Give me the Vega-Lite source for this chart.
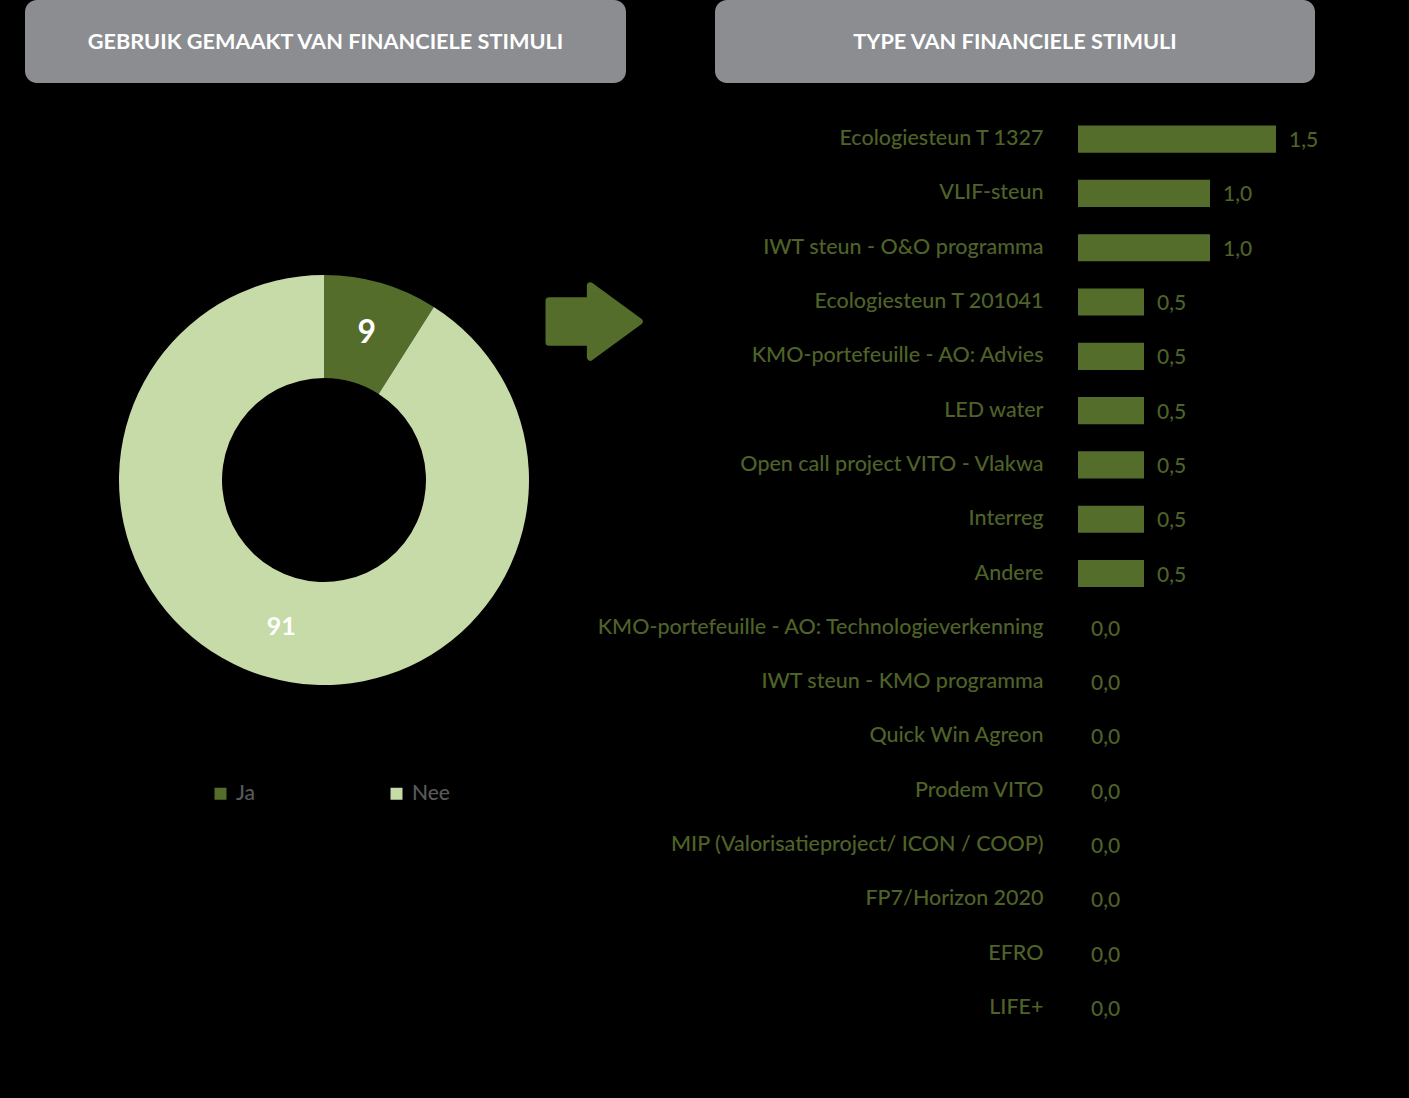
{
  "$schema": "https://vega.github.io/schema/vega-lite/v6.json",
  "background": "#000000",
  "padding": {"left": 25, "top": 0, "right": 1, "bottom": 63},
  "spacing": 29,
  "config": {
    "view": {"stroke": null},
    "font": "Lato",
    "locale": {"number": {"decimal": ",", "thousands": ".", "grouping": [3], "currency": ["€", ""]}}
  },
  "datasets": {
    "share": [
      {"antwoord": "Ja", "pct": 9},
      {"antwoord": "Nee", "pct": 91}
    ],
    "stimuli": [
      {"type": "Ecologiesteun T 1327", "waarde": 1.5},
      {"type": "VLIF-steun", "waarde": 1.0},
      {"type": "IWT steun - O&O programma", "waarde": 1.0},
      {"type": "Ecologiesteun T 201041", "waarde": 0.5},
      {"type": "KMO-portefeuille - AO: Advies", "waarde": 0.5},
      {"type": "LED water", "waarde": 0.5},
      {"type": "Open call project VITO - Vlakwa", "waarde": 0.5},
      {"type": "Interreg", "waarde": 0.5},
      {"type": "Andere", "waarde": 0.5},
      {"type": "KMO-portefeuille - AO: Technologieverkenning", "waarde": 0.0},
      {"type": "IWT steun - KMO programma", "waarde": 0.0},
      {"type": "Quick Win Agreon", "waarde": 0.0},
      {"type": "Prodem VITO", "waarde": 0.0},
      {"type": "MIP (Valorisatieproject/ ICON / COOP)", "waarde": 0.0},
      {"type": "FP7/Horizon 2020", "waarde": 0.0},
      {"type": "EFRO", "waarde": 0.0},
      {"type": "LIFE+", "waarde": 0.0}
    ]
  },
  "vconcat": [
    {
      "hconcat": [
        {
          "width": 601,
          "height": 83,
          "view": {"fill": "#8B8D91", "cornerRadius": 12, "stroke": null},
          "data": {"values": [{"titel": "GEBRUIK GEMAAKT VAN FINANCIELE STIMULI"}]},
          "mark": {"type": "text", "color": "#FFFFFF", "fontSize": 21.7, "fontWeight": "bold", "align": "center", "baseline": "middle"},
          "encoding": {"text": {"field": "titel"}}
        },
        {
          "width": 600,
          "height": 83,
          "view": {"fill": "#8B8D91", "cornerRadius": 12, "stroke": null},
          "data": {"values": [{"titel": "TYPE VAN FINANCIELE STIMULI"}]},
          "mark": {"type": "text", "color": "#FFFFFF", "fontSize": 21.7, "fontWeight": "bold", "align": "center", "baseline": "middle"},
          "encoding": {"text": {"field": "titel"}}
        }
      ],
      "spacing": 89,
      "bounds": "flush"
    },
    {
      "hconcat": [
        {
          "width": 598,
          "height": 736,
          "data": {"name": "share"},
          "layer": [
            {
              "mark": {"type": "arc", "innerRadius": 102, "outerRadius": 205},
              "encoding": {
                "theta": {"field": "pct", "type": "quantitative", "stack": true},
                "color": {
                  "field": "antwoord",
                  "type": "nominal",
                  "scale": {"domain": ["Ja", "Nee"], "range": ["#546D2B", "#C7DBA8"]},
                  "legend": {
                    "title": null,
                    "orient": "none",
                    "legendX": 185,
                    "legendY": 783,
                    "direction": "horizontal",
                    "symbolType": "square",
                    "symbolSize": 144,
                    "symbolStrokeWidth": 0,
                    "labelFontSize": 21,
                    "labelFontWeight": 500,
                    "labelColor": "#595959",
                    "labelFont": "Lato",
                    "labelOffset": 5,
                    "columnPadding": 131
                  }
                }
              }
            },
            {
              "mark": {"type": "text", "radius": 153, "color": "#FFFFFF", "fontWeight": "bold", "align": "center", "baseline": "middle"},
              "encoding": {
                "theta": {"field": "pct", "type": "quantitative", "stack": true},
                "text": {"field": "pct", "type": "quantitative"},
                "size": {"condition": {"test": "datum.antwoord === 'Ja'", "value": 32}, "value": 25}
              }
            },
            {
              "data": {"values": [{"vorm": "pijl"}]},
              "mark": {
                "type": "point",
                "shape": "M-1,-0.44 L-0.12,-0.44 L-0.12,-0.76 L0.92,0 L-0.12,0.76 L-0.12,0.44 L-1,0.44 Z",
                "size": 8836,
                "filled": true,
                "color": "#546D2B",
                "stroke": "#546D2B",
                "strokeWidth": 7,
                "strokeJoin": "round",
                "opacity": 1
              },
              "encoding": {"x": {"value": 571}, "y": {"value": 209.5}}
            }
          ]
        },
        {
          "width": 330,
          "height": 923,
          "data": {"name": "stimuli"},
          "encoding": {
            "y": {
              "field": "type",
              "type": "nominal",
              "sort": null,
              "scale": {"paddingInner": 0.5, "paddingOuter": 0.25},
              "axis": {
                "title": null,
                "domain": false,
                "ticks": false,
                "labelPadding": 35,
                "labelFontSize": 21.5,
                "labelFontWeight": 500,
                "labelColor": "#4F6228",
                "labelFont": "Lato",
                "labelLimit": 0
              }
            },
            "x": {
              "field": "waarde",
              "type": "quantitative",
              "scale": {"domain": [0, 2.5]},
              "axis": null
            }
          },
          "layer": [
            {"mark": {"type": "bar", "color": "#546D2B"}},
            {
              "mark": {"type": "text", "align": "left", "baseline": "middle", "dx": 13, "dy": 2, "fontSize": 21, "fontWeight": 500, "color": "#4F6228"},
              "encoding": {"text": {"field": "waarde", "type": "quantitative", "format": ".1f"}}
            }
          ]
        }
      ],
      "spacing": 455,
      "bounds": "flush"
    }
  ]
}
